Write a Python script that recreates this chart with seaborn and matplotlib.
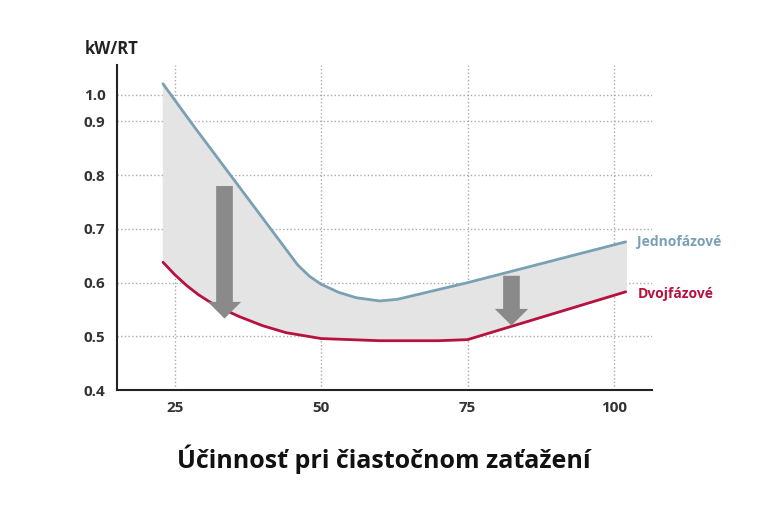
import numpy as np
import pandas as pd
import seaborn as sns
import matplotlib.pyplot as plt

sns.set_style("white")
plt.rcParams['font.family'] = ['Open Sans', 'DejaVu Sans']

# data
jedno_x = [23, 28, 46, 48, 50, 53, 56, 60, 63, 75, 102]
jedno_y = [1.04, 0.895, 0.633, 0.612, 0.597, 0.582, 0.572, 0.566, 0.569, 0.60, 0.676]
dvoj_x = [23, 25, 27, 29, 31, 33, 36, 40, 44, 50, 60, 70, 75, 102]
dvoj_y = [0.638, 0.615, 0.595, 0.578, 0.564, 0.552, 0.537, 0.520, 0.507, 0.496, 0.492, 0.492, 0.494, 0.583]
x_ticks = [25, 50, 75, 100]
y_ticks = [0.4, 0.5, 0.6, 0.7, 0.8, 0.9, 1.0]


def fwd(y):
    y = np.asarray(y, dtype=float)
    return np.where(y <= 0.9, y, 0.9 + (y - 0.9) * 0.5)


def inv(t):
    t = np.asarray(t, dtype=float)
    return np.where(t <= 0.9, t, 0.9 + (t - 0.9) * 2.0)


blue = '#7aa1b3'
red = '#b8113f'

fig = plt.figure(figsize=(7.68, 5.12), dpi=100)
ax = fig.add_axes([0.152, 0.238, 0.697, 0.635])
ax.set_yscale('function', functions=(fwd, inv))

xs = np.linspace(23, 102, 300)
top = np.interp(xs, jedno_x, jedno_y)
bot = np.interp(xs, dvoj_x, dvoj_y)
ax.fill_between(xs, bot, top, color='#e4e4e4', zorder=1)

df = pd.concat([
    pd.DataFrame({'x': jedno_x, 'y': jedno_y, 's': 'Jednofázové'}),
    pd.DataFrame({'x': dvoj_x, 'y': dvoj_y, 's': 'Dvojfázové'}),
])
sns.lineplot(data=df, x='x', y='y', hue='s', palette={'Jednofázové': blue, 'Dvojfázové': red},
             linewidth=2, legend=False, ax=ax, zorder=3, sort=False)

for x0, y0, y1 in [(33.5, 0.785, 0.528), (82.5, 0.618, 0.515)]:
    ax.annotate('', xy=(x0, y1), xytext=(x0, y0),
                arrowprops=dict(arrowstyle='simple,head_length=1.0,head_width=2.0,tail_width=1.0',
                                color='#8a8a8a', mutation_scale=12, lw=0), zorder=4)

ax.text(104, 0.676, 'Jednofázové', color=blue, fontsize=10, fontweight='bold', va='center')
ax.text(104, 0.578, 'Dvojfázové', color=red, fontsize=10, fontweight='bold', va='center')

ax.set_xlim(15.1, 106.5)
ax.set_ylim(0.4, 1.11)
ax.set_xticks(x_ticks)
ax.set_yticks(y_ticks)
ax.set_yticklabels([f'{v:.1f}' for v in y_ticks])
ax.grid(True, linestyle=':', color='#aaaaaa', linewidth=1)
for s in ['top', 'right']:
    ax.spines[s].set_visible(False)
for s in ['left', 'bottom']:
    ax.spines[s].set_color('#222222')
    ax.spines[s].set_linewidth(1.5)
ax.tick_params(length=0, labelsize=11, colors='#333333', pad=8)
for lab in ax.get_xticklabels() + ax.get_yticklabels():
    lab.set_fontweight('bold')
ax.set_xlabel('')
ax.set_ylabel('')

fig.text(0.11, 0.895, 'kW/RT', fontsize=12, fontweight='bold', color='#222222')
fig.text(0.5, 0.085, 'Účinnosť pri čiastočnom zaťažení', fontsize=18, fontweight='bold',
         color='#111111', ha='center')

fig.savefig('out.png', dpi=100)
